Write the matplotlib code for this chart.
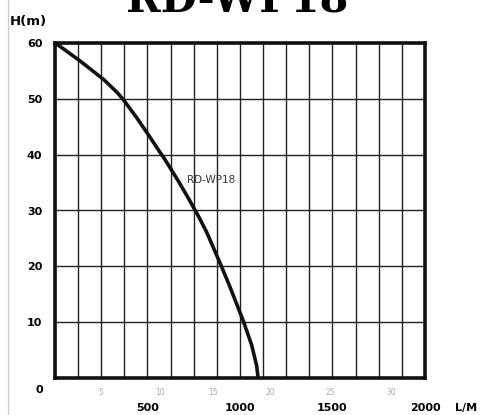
import numpy as np
import matplotlib.pyplot as plt
from matplotlib.lines import Line2D

# Pump curve (flow in L/min, head in m)
flow = [0, 31, 139, 265, 337, 373, 442, 504, 568, 589, 612, 666, 721, 775,
        820, 892, 946, 1018, 1063, 1090, 1098]
head = [60, 59.3, 56.7, 53.4, 51.1, 49.7, 46.6, 43.6, 40.4, 39.4, 38.2, 35.3,
        32.2, 29.0, 26.1, 20.6, 16.3, 10.2, 5.9, 2.2, 0]

head_ticks = [10, 20, 30, 40, 50, 60]
flow_labels = [500, 1000, 1500, 2000]
# faint secondary scale printed under the axis
small_pos = [250, 570, 855, 1165, 1490, 1820]
small_labels = ['5', '10', '15', '20', '25', '30']

fig = plt.figure(figsize=(4.85, 4.15), dpi=100)
ax = fig.add_axes([55 / 485, 37 / 415, 370 / 485, 335 / 415])

# Grid: 16 columns of 125 L/min, 6 rows of 10 m
ax.set_xticks(np.arange(0, 2001, 125))
ax.set_yticks(head_ticks)
ax.grid(True, color='#222222', linewidth=1.0)
ax.tick_params(length=0, labelbottom=False)
ax.set_yticklabels([str(v) for v in head_ticks], fontsize=8, fontweight='heavy')
ax.tick_params(axis='y', pad=9)
ax.set_xlim(0, 2000)
ax.set_ylim(0, 60)
for s in ax.spines.values():
    s.set_linewidth(2.6)
    s.set_color('#111111')

ax.plot(flow, head, color='#111111', linewidth=2.6, solid_joinstyle='round',
        solid_capstyle='butt', clip_on=False)
ax.text(714, 35.5, 'RD-WP18', fontsize=7.5, color='#333333', va='center', ha='left')

# bottom labels
trans = ax.get_xaxis_transform()
for x, lab in zip(small_pos, small_labels):
    ax.text(x, -0.03, lab, transform=trans, fontsize=5.5, color='#aaaaaa',
            ha='center', va='top')
for v in flow_labels:
    ax.text(v, -0.075, str(v), transform=trans, fontsize=8, fontweight='heavy',
            ha='center', va='top')
ax.text(2220, -0.075, 'L/M', transform=trans, fontsize=8, fontweight='heavy',
        ha='center', va='top', clip_on=False)
ax.text(-85, -0.035, '0', transform=trans, fontsize=8, fontweight='heavy',
        ha='center', va='center')

fig.text(10 / 485, 1 - 22 / 415, 'H(m)', fontsize=9.5, fontweight='bold', va='center', ha='left')
fig.text(237 / 485, 1 - 11 / 415, 'RD-WP18', fontsize=30, fontweight='bold',
         family='DejaVu Serif', ha='center', va='baseline')

fig.add_artist(Line2D([8 / 485, 8 / 485], [0, 1], color='#cccccc', linewidth=1))

fig.savefig('out.png', dpi=100)
